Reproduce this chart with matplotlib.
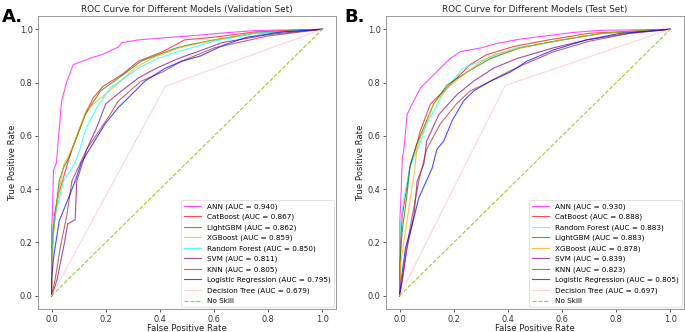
import matplotlib
matplotlib.use("Agg")
import matplotlib.pyplot as plt

# ---------------- Data: Validation set (panel A) ----------------
val_models = ["ANN", "CatBoost", "LightGBM", "XGBoost", "Random Forest", "SVM",
              "KNN", "Logistic Regression", "Decision Tree"]
val_auc = [0.940, 0.867, 0.862, 0.859, 0.850, 0.811, 0.805, 0.795, 0.679]

val_ann_fpr = [0, 0.0, 0.003, 0.007, 0.018, 0.022, 0.037, 0.055, 0.08, 0.147, 0.184, 0.246, 0.26, 0.32, 0.44, 0.50, 0.62, 0.75, 1.0]
val_ann_tpr = [0, 0.25, 0.30, 0.47, 0.50, 0.55, 0.73, 0.80, 0.867, 0.893, 0.904, 0.933, 0.95, 0.96, 0.97, 0.974, 0.985, 0.995, 1.0]

val_cat_fpr = [0, 0.002, 0.01, 0.025, 0.04, 0.06, 0.075, 0.124, 0.154, 0.19, 0.26, 0.32, 0.41, 0.455, 0.49, 0.6, 0.75, 1.0]
val_cat_tpr = [0, 0.22, 0.30, 0.38, 0.43, 0.50, 0.55, 0.68, 0.743, 0.786, 0.83, 0.88, 0.916, 0.94, 0.96, 0.97, 0.99, 1.0]

val_lgb_fpr = [0, 0.0, 0.005, 0.01, 0.028, 0.044, 0.065, 0.124, 0.18, 0.265, 0.33, 0.455, 0.5, 0.6, 0.75, 1.0]
val_lgb_tpr = [0, 0.14, 0.22, 0.27, 0.43, 0.48, 0.52, 0.68, 0.768, 0.83, 0.88, 0.928, 0.94, 0.96, 0.985, 1.0]

val_xgb_fpr = [0, 0.005, 0.007, 0.02, 0.044, 0.075, 0.10, 0.13, 0.20, 0.31, 0.37, 0.47, 0.6, 0.75, 1.0]
val_xgb_tpr = [0, 0.15, 0.23, 0.35, 0.49, 0.55, 0.62, 0.70, 0.757, 0.856, 0.89, 0.93, 0.96, 0.985, 1.0]

val_rf_fpr = [0, 0.0, 0.002, 0.013, 0.044, 0.087, 0.105, 0.124, 0.167, 0.216, 0.27, 0.32, 0.39, 0.467, 0.6, 0.75, 1.0]
val_rf_tpr = [0, 0.06, 0.25, 0.30, 0.43, 0.50, 0.55, 0.62, 0.706, 0.78, 0.817, 0.854, 0.89, 0.916, 0.955, 0.985, 1.0]

val_svm_fpr = [0, 0.005, 0.02, 0.044, 0.06, 0.087, 0.093, 0.13, 0.167, 0.20, 0.26, 0.32, 0.387, 0.467, 0.55, 0.63, 0.8, 1.0]
val_svm_tpr = [0, 0.01, 0.06, 0.18, 0.27, 0.285, 0.43, 0.55, 0.632, 0.72, 0.77, 0.817, 0.854, 0.89, 0.92, 0.95, 0.98, 1.0]

val_knn_fpr = [0, 0.013, 0.032, 0.056, 0.075, 0.13, 0.216, 0.246, 0.33, 0.41, 0.48, 0.6, 0.8, 1.0]
val_knn_tpr = [0, 0.06, 0.18, 0.30, 0.43, 0.55, 0.68, 0.73, 0.805, 0.84, 0.88, 0.93, 0.975, 1.0]

val_lr_fpr = [0, 0.0, 0.007, 0.028, 0.056, 0.087, 0.11, 0.14, 0.197, 0.246, 0.31, 0.344, 0.42, 0.48, 0.55, 0.634, 0.72, 0.85, 1.0]
val_lr_tpr = [0, 0.06, 0.14, 0.28, 0.35, 0.43, 0.50, 0.55, 0.644, 0.706, 0.77, 0.805, 0.854, 0.88, 0.90, 0.94, 0.97, 0.99, 1.0]

val_dt_fpr = [0, 0.42, 1.0]
val_dt_tpr = [0, 0.786, 1.0]

# ---------------- Data: Test set (panel B) ----------------
test_models = ["ANN", "CatBoost", "Random Forest", "LightGBM", "XGBoost", "SVM",
               "KNN", "Logistic Regression", "Decision Tree"]
test_auc = [0.930, 0.888, 0.883, 0.883, 0.878, 0.839, 0.823, 0.805, 0.697]

test_ann_fpr = [0, 0.001, 0.006, 0.01, 0.016, 0.028, 0.04, 0.077, 0.15, 0.187, 0.224, 0.30, 0.36, 0.445, 0.64, 0.74, 1.0]
test_ann_tpr = [0, 0.28, 0.39, 0.515, 0.55, 0.68, 0.706, 0.78, 0.854, 0.89, 0.916, 0.93, 0.947, 0.963, 0.988, 0.996, 1.0]

test_cat_fpr = [0, 0.004, 0.01, 0.026, 0.04, 0.059, 0.077, 0.114, 0.163, 0.224, 0.26, 0.32, 0.42, 0.55, 0.7, 1.0]
test_cat_tpr = [0, 0.206, 0.30, 0.40, 0.496, 0.55, 0.62, 0.72, 0.768, 0.83, 0.867, 0.904, 0.935, 0.96, 0.985, 1.0]

test_rf_fpr = [0, 0.001, 0.002, 0.016, 0.04, 0.071, 0.10, 0.145, 0.18, 0.236, 0.32, 0.43, 0.6, 0.75, 1.0]
test_rf_tpr = [0, 0.18, 0.255, 0.367, 0.49, 0.558, 0.644, 0.73, 0.79, 0.854, 0.89, 0.93, 0.96, 0.985, 1.0]

test_lgb_fpr = [0, 0.001, 0.01, 0.026, 0.038, 0.059, 0.126, 0.175, 0.25, 0.335, 0.445, 0.6, 0.75, 1.0]
test_lgb_tpr = [0, 0.12, 0.243, 0.367, 0.48, 0.558, 0.72, 0.79, 0.84, 0.89, 0.93, 0.96, 0.985, 1.0]

test_xgb_fpr = [0, 0.004, 0.022, 0.04, 0.053, 0.065, 0.126, 0.187, 0.285, 0.347, 0.445, 0.6, 0.75, 1.0]
test_xgb_tpr = [0, 0.12, 0.243, 0.367, 0.45, 0.558, 0.72, 0.79, 0.867, 0.904, 0.93, 0.96, 0.985, 1.0]

test_svm_fpr = [0, 0.01, 0.028, 0.053, 0.065, 0.09, 0.10, 0.145, 0.212, 0.273, 0.347, 0.433, 0.567, 0.69, 0.85, 1.0]
test_svm_tpr = [0, 0.058, 0.18, 0.30, 0.43, 0.496, 0.58, 0.68, 0.755, 0.805, 0.854, 0.89, 0.93, 0.96, 0.985, 1.0]

test_knn_fpr = [0, 0.01, 0.026, 0.047, 0.071, 0.10, 0.15, 0.21, 0.26, 0.335, 0.40, 0.457, 0.567, 0.7, 0.85, 1.0]
test_knn_tpr = [0, 0.058, 0.18, 0.30, 0.43, 0.55, 0.644, 0.72, 0.768, 0.805, 0.84, 0.867, 0.915, 0.955, 0.985, 1.0]

test_lr_fpr = [0, 0.006, 0.022, 0.047, 0.071, 0.12, 0.138, 0.163, 0.194, 0.236, 0.273, 0.335, 0.41, 0.47, 0.567, 0.69, 0.81, 1.0]
test_lr_tpr = [0, 0.058, 0.18, 0.268, 0.367, 0.478, 0.55, 0.58, 0.657, 0.73, 0.768, 0.805, 0.84, 0.88, 0.922, 0.96, 0.984, 1.0]

test_dt_fpr = [0, 0.39, 1.0]
test_dt_tpr = [0, 0.789, 1.0]

noskill = [0, 1]

colors = {"ANN": "magenta", "CatBoost": "red", "LightGBM": "green", "XGBoost": "orange",
          "Random Forest": "cyan", "SVM": "purple", "KNN": "brown",
          "Logistic Regression": "blue", "Decision Tree": "pink"}

val_curves = {
    "ANN": (val_ann_fpr, val_ann_tpr), "CatBoost": (val_cat_fpr, val_cat_tpr),
    "LightGBM": (val_lgb_fpr, val_lgb_tpr), "XGBoost": (val_xgb_fpr, val_xgb_tpr),
    "Random Forest": (val_rf_fpr, val_rf_tpr), "SVM": (val_svm_fpr, val_svm_tpr),
    "KNN": (val_knn_fpr, val_knn_tpr), "Logistic Regression": (val_lr_fpr, val_lr_tpr),
    "Decision Tree": (val_dt_fpr, val_dt_tpr)}
test_curves = {
    "ANN": (test_ann_fpr, test_ann_tpr), "CatBoost": (test_cat_fpr, test_cat_tpr),
    "Random Forest": (test_rf_fpr, test_rf_tpr), "LightGBM": (test_lgb_fpr, test_lgb_tpr),
    "XGBoost": (test_xgb_fpr, test_xgb_tpr), "SVM": (test_svm_fpr, test_svm_tpr),
    "KNN": (test_knn_fpr, test_knn_tpr), "Logistic Regression": (test_lr_fpr, test_lr_tpr),
    "Decision Tree": (test_dt_fpr, test_dt_tpr)}

fig = plt.figure(figsize=(6.85, 3.32), dpi=100)
axA = fig.add_axes([0.0555, 0.069, 0.435, 0.883])
axB = fig.add_axes([0.5635, 0.069, 0.435, 0.883])

def draw(ax, models, aucs, curves, title):
    for m, a in zip(models, aucs):
        fpr, tpr = curves[m]
        ax.plot(fpr, tpr, color=colors[m], lw=0.8, alpha=0.7,
                label=f"{m} (AUC = {a:.3f})")
    ax.plot(noskill, noskill, linestyle="--", color="yellowgreen", lw=0.8, label="No Skill")
    ax.set_title(title, fontsize=6.4, pad=3, color="#222222")
    ax.set_xlabel("False Positive Rate", fontsize=6.1, labelpad=0, color="#222222")
    ax.set_ylabel("True Positive Rate", fontsize=6.1, labelpad=1.5, color="#222222")
    ticks = [0.0, 0.2, 0.4, 0.6, 0.8, 1.0]
    ax.set_xticks(ticks)
    ax.set_yticks(ticks)
    ax.tick_params(labelsize=5.9, length=2.5, width=0.6, pad=1.5, colors="#333333")
    for s in ax.spines.values():
        s.set_color("#999999")
        s.set_linewidth(0.7)
    leg = ax.legend(loc="lower right", fontsize=5.2, handlelength=2.4,
                    labelspacing=0.55, frameon=True, borderaxespad=0.3)
    leg.get_frame().set_linewidth(0.5)

draw(axA, val_models, val_auc, val_curves, "ROC Curve for Different Models (Validation Set)")
draw(axB, test_models, test_auc, test_curves, "ROC Curve for Different Models (Test Set)")

fig.text(0.003, 0.975, "A.", fontsize=13, fontweight="bold", va="top", ha="left")
fig.text(0.503, 0.975, "B.", fontsize=13, fontweight="bold", va="top", ha="left")

fig.savefig("out.png", dpi=100)
